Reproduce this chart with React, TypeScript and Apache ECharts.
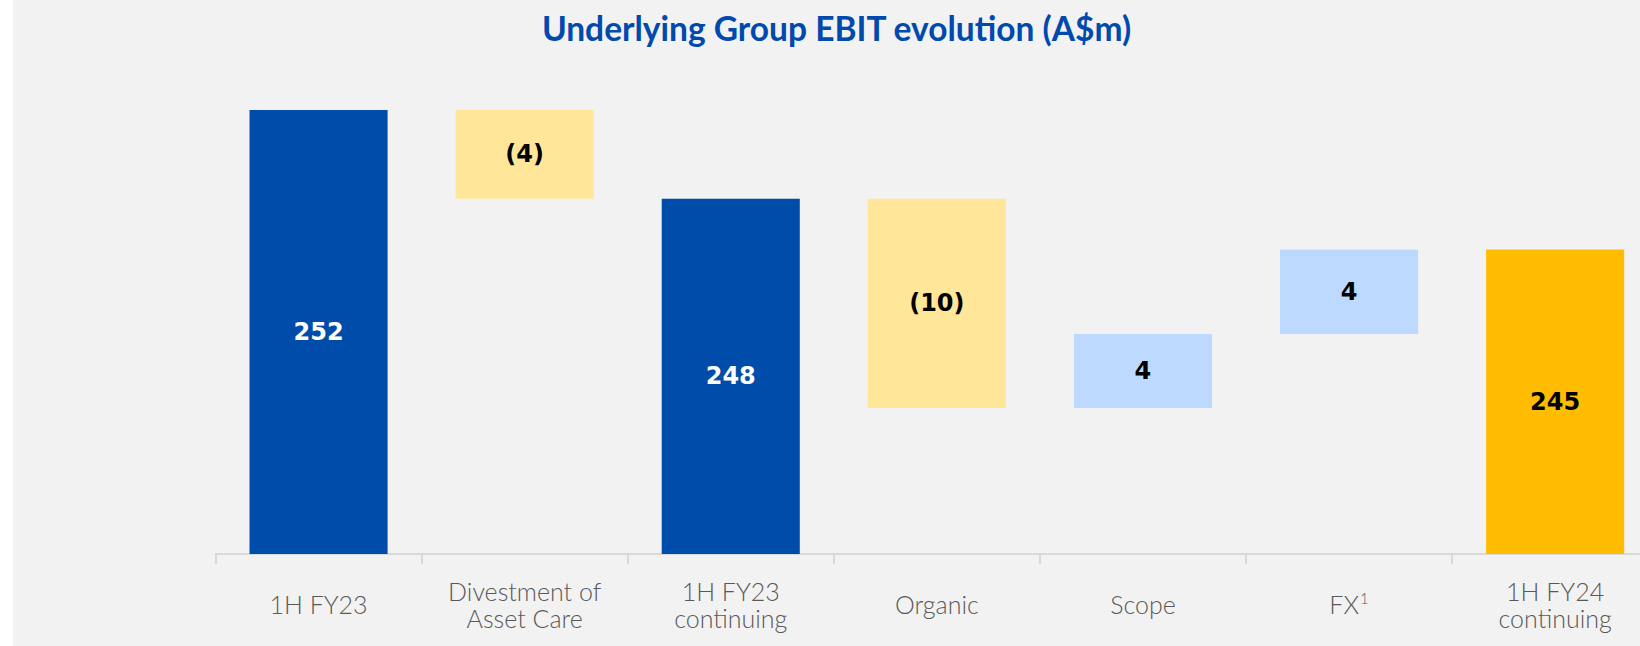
import React, { useEffect, useRef } from "react";
import * as echarts from "echarts";

// ---- data ----
const CATEGORIES = [
  "1H FY23",
  "Divestment of\nAsset Care",
  "1H FY23\ncontinuing",
  "Organic",
  "Scope",
  "FX",
  "1H FY24\ncontinuing",
];
const FOOTNOTES = ["", "", "", "", "", "1", ""];
// totals are absolute levels, deltas are changes (A$m, estimated underlying values)
const KINDS = ["total", "delta", "total", "delta", "delta", "delta", "total"];
const VALUES = [252.0, -4.2, 247.8, -9.9, 3.5, 4.0, 245.4];
const TITLE = "Underlying Group EBIT evolution (A$m)";
const AXIS_MIN = 231;
const AXIS_MAX = 252;

// ---- styles ----
const BAR_COLORS = ["#004CAA", "#FFE699", "#004CAA", "#FFE699", "#BDD9FF", "#BDD9FF", "#FFBC00"];
const LABEL_COLORS = ["#FFFFFF", "#000000", "#FFFFFF", "#000000", "#000000", "#000000", "#000000"];
const CHART_W = 1660;

function buildRanges() {
  const out: number[][] = [];
  let level = 0;
  VALUES.forEach((v, i) => {
    if (KINDS[i] === "total") {
      out.push([i, AXIS_MIN, v]);
      level = v;
    } else {
      const next = level + v;
      out.push([i, Math.min(level, next), Math.max(level, next)]);
      level = next;
    }
  });
  return out;
}

function labelText(i: number) {
  const v = VALUES[i];
  const r = Math.round(Math.abs(v));
  if (KINDS[i] === "delta" && v < 0) return `(${r})`;
  return `${r}`;
}

export default function App() {
  const ref = useRef<HTMLDivElement>(null);
  useEffect(() => {
    document.body.style.margin = "0";
    if (!ref.current) return;
    const chart = echarts.init(ref.current, undefined, { renderer: "svg" });
    const option: any = {
      animation: false,
      backgroundColor: "transparent",
      graphic: [
        {
          type: "text",
          x: 836.5,
          y: 27.5,
          style: {
            text: TITLE,
            fill: "#0049AD",
            font: "bold 33.5px Lato",
            textAlign: "center",
            textVerticalAlign: "middle",
          },
        },
      ],
      grid: { left: 215.5, right: CHART_W - 215.5 - 1442.7, top: 110, bottom: 92 },
      xAxis: {
        type: "category",
        data: CATEGORIES,
        axisLine: { show: true, lineStyle: { color: "#D9D9D9", width: 2 } },
        axisTick: { show: true, length: 10, lineStyle: { color: "#D9D9D9", width: 2 } },
        axisLabel: {
          interval: 0,
          color: "#595959",
          fontFamily: "Lato",
          fontWeight: 300,
          fontSize: 25,
          lineHeight: 27,
          margin: 50,
          verticalAlign: "middle",
          formatter: (v: string, i: number) =>
            FOOTNOTES[i] ? `{base|${v}}{sup|${FOOTNOTES[i]}}` : v,
          rich: {
            base: { fontFamily: "Lato", fontWeight: 300, fontSize: 25, color: "#595959", lineHeight: 27 },
            sup: { fontFamily: "Lato", fontWeight: 300, fontSize: 15, color: "#595959", verticalAlign: "top", lineHeight: 27, padding: [0, 0, 0, 1] },
          },
        },
        splitLine: { show: false },
      },
      yAxis: {
        type: "value",
        min: AXIS_MIN,
        max: AXIS_MAX,
        show: false,
        splitLine: { show: false },
      },
      series: [
        {
          type: "custom",
          data: buildRanges(),
          encode: { x: 0, y: [1, 2] },
          renderItem: (params: any, api: any) => {
            const i = api.value(0);
            const lo = api.value(1);
            const hi = api.value(2);
            const pTop = api.coord([i, hi]);
            const pBot = api.coord([i, lo]);
            const w = api.size([1, 0])[0] * 0.67;
            return {
              type: "group",
              children: [
                {
                  type: "rect",
                  shape: { x: pTop[0] - w / 2, y: pTop[1], width: w, height: pBot[1] - pTop[1] },
                  style: { fill: BAR_COLORS[i] },
                },
                {
                  type: "text",
                  x: pTop[0],
                  y: (pTop[1] + pBot[1]) / 2,
                  style: {
                    text: labelText(i),
                    fill: LABEL_COLORS[i],
                    font: "bold 24px 'DejaVu Sans'",
                    textAlign: "center",
                    textVerticalAlign: "middle",
                  },
                },
              ],
            };
          },
        },
      ],
    };
    chart.setOption(option);
    return () => chart.dispose();
  }, []);
  return (
    <div
      style={{
        width: 1640,
        height: 646,
        background: "linear-gradient(90deg, #ffffff 0px, #ffffff 13px, #f2f2f2 13px)",
        overflow: "hidden",
        position: "relative",
      }}
    >
      <div ref={ref} style={{ width: CHART_W, height: 646, position: "absolute", left: 0, top: 0 }} />
    </div>
  );
}
